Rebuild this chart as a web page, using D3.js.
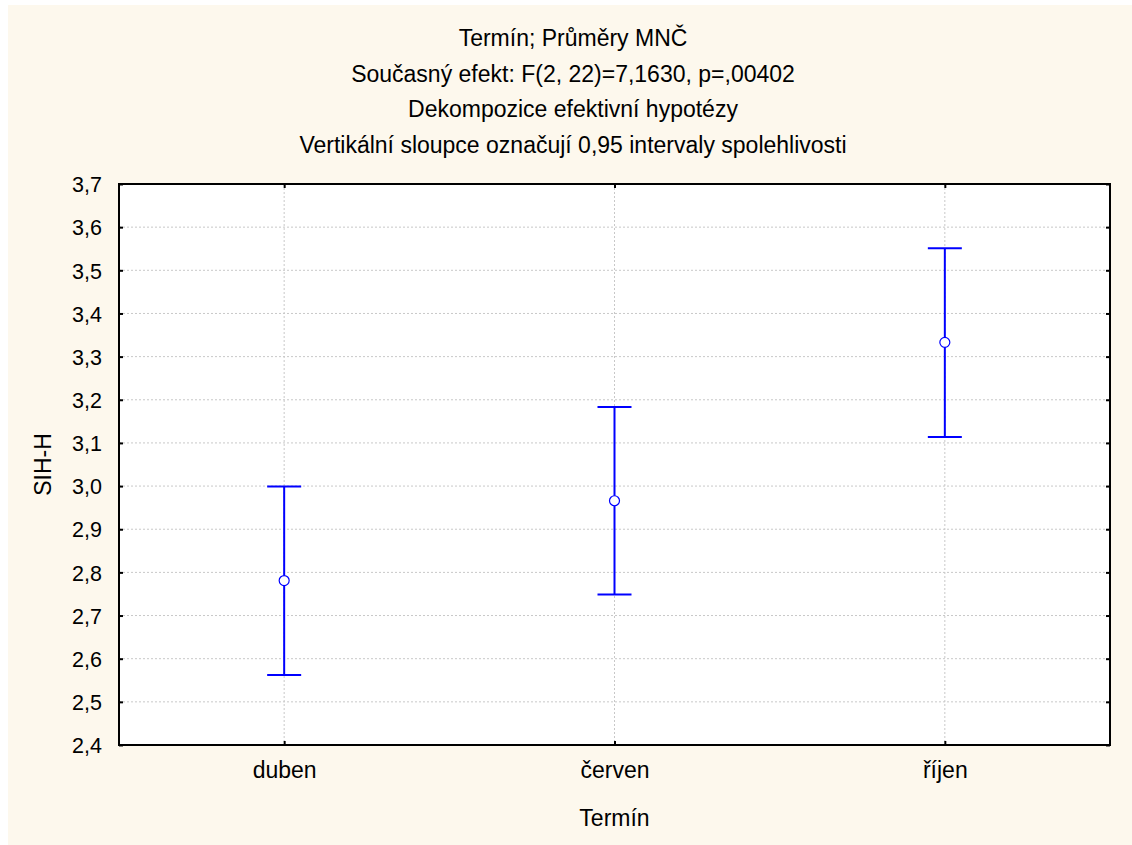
<!DOCTYPE html>
<html>
<head>
<meta charset="utf-8">
<script src="https://cdn.jsdelivr.net/npm/d3@7"></script>
<style>
  body { margin: 0; background: #fff; }
  text { font-family: "Liberation Sans", Arial, sans-serif; fill: #000; }
</style>
</head>
<body>
<svg id="chart"></svg>
<script>
const width = 1132;
const height = 845;

const titleLines = [
  "Termín; Průměry MNČ",
  "Současný efekt: F(2, 22)=7,1630, p=,00402",
  "Dekompozice efektivní hypotézy",
  "Vertikální sloupce označují 0,95 intervaly spolehlivosti"
];
const categories = ["duben", "červen", "říjen"];
const means = [2.781, 2.966, 3.333];
const lower = [2.562, 2.749, 3.114];
const upper = [2.999, 3.183, 3.551];
const yTicks = [2.4, 2.5, 2.6, 2.7, 2.8, 2.9, 3.0, 3.1, 3.2, 3.3, 3.4, 3.5, 3.6, 3.7];

const margin = { top: 184, right: 22, bottom: 100, left: 119 };
const plotW = width - margin.left - margin.right;
const plotH = height - margin.top - margin.bottom;

const svg = d3.select("#chart").attr("width", width).attr("height", height);

svg.append("rect")
  .attr("x", 8).attr("y", 5)
  .attr("width", width - 8).attr("height", height - 5)
  .attr("fill", "#fdf8ed");

const g = svg.append("g").attr("transform", `translate(${margin.left},${margin.top})`);

const x = d3.scalePoint().domain(categories).range([0, plotW]).padding(0.5);
const y = d3.scaleLinear().domain([2.4, 3.7]).range([plotH, 0]);
const fmt = v => d3.format(".1f")(v).replace(".", ",");

g.append("rect").attr("width", plotW).attr("height", plotH).attr("fill", "#fff");

// grid
g.selectAll(".hgrid").data(yTicks.slice(1, -1)).enter().append("line")
  .attr("x1", 0).attr("x2", plotW)
  .attr("y1", d => y(d)).attr("y2", d => y(d))
  .attr("stroke", "#c8c8c8").attr("stroke-dasharray", "2,2");
g.selectAll(".vgrid").data(categories).enter().append("line")
  .attr("x1", d => x(d)).attr("x2", d => x(d))
  .attr("y1", 0).attr("y2", plotH)
  .attr("stroke", "#c8c8c8").attr("stroke-dasharray", "2,2");

// axes (inward ticks)
const yAxis = g.append("g").call(d3.axisLeft(y).tickValues(yTicks).tickFormat(fmt).tickSize(-4).tickPadding(17));
const yAxisR = g.append("g").attr("transform", `translate(${plotW},0)`)
  .call(d3.axisRight(y).tickValues(yTicks).tickFormat("").tickSize(-4));
const xAxis = g.append("g").attr("transform", `translate(0,${plotH})`)
  .call(d3.axisBottom(x).tickSize(-4).tickPadding(17));
const xAxisT = g.append("g").call(d3.axisTop(x).tickFormat("").tickSize(-4));

[yAxis, yAxisR, xAxis, xAxisT].forEach(a => {
  a.select(".domain").remove();
  a.selectAll("line").attr("stroke", "#000").attr("stroke-width", 2);
  a.selectAll("text").style("font-family", "Liberation Sans, Arial, sans-serif");
});
yAxis.selectAll("text").style("font-size", "21.5px").attr("dy", "0.36em");
xAxis.selectAll("text").style("font-size", "23px");

g.append("rect").attr("width", plotW).attr("height", plotH)
  .attr("fill", "none").attr("stroke", "#000").attr("stroke-width", 2);

// error bars
const bars = g.selectAll(".bar").data(categories).enter().append("g");
bars.append("line")
  .attr("x1", d => x(d)).attr("x2", d => x(d))
  .attr("y1", (d, i) => y(upper[i])).attr("y2", (d, i) => y(lower[i]))
  .attr("stroke", "#0000ff").attr("stroke-width", 2);
bars.append("line")
  .attr("x1", d => x(d) - 17).attr("x2", d => x(d) + 17)
  .attr("y1", (d, i) => y(upper[i])).attr("y2", (d, i) => y(upper[i]))
  .attr("stroke", "#0000ff").attr("stroke-width", 2);
bars.append("line")
  .attr("x1", d => x(d) - 17).attr("x2", d => x(d) + 17)
  .attr("y1", (d, i) => y(lower[i])).attr("y2", (d, i) => y(lower[i]))
  .attr("stroke", "#0000ff").attr("stroke-width", 2);
bars.append("circle")
  .attr("cx", d => x(d)).attr("cy", (d, i) => y(means[i]))
  .attr("r", 5).attr("fill", "#fff").attr("stroke", "#0000ff").attr("stroke-width", 1.2);

// titles
svg.selectAll(".title").data(titleLines).enter().append("text")
  .attr("x", 573).attr("y", (d, i) => 46 + i * 35.7)
  .attr("text-anchor", "middle").style("font-size", "23px")
  .text(d => d);

svg.append("text")
  .attr("x", margin.left + plotW / 2).attr("y", 826)
  .attr("text-anchor", "middle").style("font-size", "23px")
  .text("Termín");

svg.append("text")
  .attr("transform", `translate(51,${margin.top + plotH / 2}) rotate(-90)`)
  .attr("text-anchor", "middle").style("font-size", "23px")
  .text("SIH-H");
</script>
</body>
</html>
